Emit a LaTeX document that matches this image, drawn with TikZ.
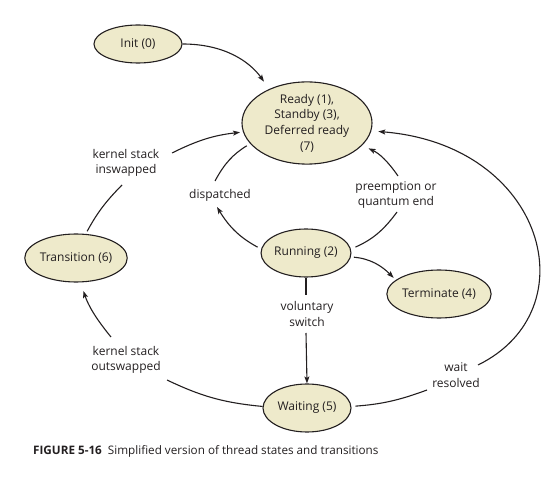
\documentclass[tikz,border=0pt]{standalone}
\usepackage{fontspec}
\setmainfont{Open Sans}
\usetikzlibrary{shapes.geometric,arrows.meta}
\definecolor{statefill}{RGB}{238,234,203}
\definecolor{ink}{RGB}{35,31,32}
\begin{document}
\begin{tikzpicture}[x=1pt,y=-1pt,
  state/.style={ellipse,draw=ink,line width=1.1pt,fill=statefill,inner sep=0pt,
    font=\fontsize{12}{15.7}\selectfont,align=center,text=ink},
  lbl/.style={font=\fontsize{12}{15.5}\selectfont,align=center,text=ink,inner sep=0pt},
  conn/.style={line width=1.1pt,draw=ink},
  arr/.style={conn,-{Stealth[length=7pt,width=5pt,inset=1.5pt]}}]
\useasboundingbox (0,0) rectangle (558,484);

% states
\node[state,minimum width=88pt,minimum height=38pt] (init) at (138,44) {Init (0)};
\node[state,minimum width=130pt,minimum height=74pt] (ready) at (307,123)
  {Ready (1),\\Standby (3),\\Deferred ready\\(7)};
\node[state,minimum width=86pt,minimum height=48pt] (trans) at (76,258) {Transition (6)};
\node[state,minimum width=86pt,minimum height=48pt] (run) at (306,253) {Running (2)};
\node[state,minimum width=88pt,minimum height=48pt] (term) at (439,294) {Terminate (4)};
\node[state,minimum width=88pt,minimum height=48pt] (wait) at (307,408) {Waiting (5)};

% labels
\node[lbl] (lin) at (126,163) {kernel stack\\inswapped};
\node[lbl] (ldisp) at (220,195) {dispatched};
\node[lbl] (lpre) at (396,195) {preemption or\\quantum end};
\node[lbl] (lvol) at (307,314) {voluntary\\switch};
\node[lbl] (lout) at (126,360) {kernel stack\\outswapped};
\node[lbl] (lwr) at (456,375) {wait\\resolved};

% free ends next to the labels
\coordinate (in1) at (122,185);
\coordinate (in2) at (172,153);
\coordinate (d1) at (215,181);
\coordinate (d2) at (217,207);
\coordinate (p1) at (397,212);
\coordinate (p2) at (398,176);
\coordinate (v1) at (306,295);
\coordinate (v2) at (306,333);
\coordinate (o1) at (167,380);
\coordinate (o2) at (111,337);
\coordinate (w1) at (427,390);
\coordinate (w2) at (478,365);

% connectors
\draw[arr,shorten >=9pt] (init.east) .. controls (225,44) and (250,62) .. (ready.138);

\draw[conn,shorten <=3pt] (trans.68) to[bend left=8] (in1);
\draw[arr,shorten >=3pt] (in2) to[bend left=10] (ready.188);

\draw[conn,shorten <=4pt] (ready.200) to[bend right=15] (d1);
\draw[arr,shorten <=4pt] (run.175) to[bend left=15] (d2);

\draw[conn,shorten <=5pt] (run.5) to[bend right=15] (p1);
\draw[arr,shorten >=7pt] (p2) to[bend right=15] (ready.-22);

\draw[arr,shorten <=3pt,shorten >=3pt] (run.-5) to[out=-5,in=135] (term.162);

\draw[conn] (run.south) -- (v1);
\draw[arr] (v2) -- (wait.north);

\draw[conn] (wait.178) to[bend left=10] (o1);
\draw[arr,shorten >=9pt] (o2) to[bend left=10] (trans.-80);

\draw[conn,shorten <=4pt] (wait.2) to[bend right=8] (w1);
\draw[arr,shorten >=7pt] (w2) .. controls (590,310) and (545,145) .. (ready.-7);

% caption
\node[anchor=west,inner sep=0pt,text=ink,font=\fontsize{11.7}{14}\selectfont] (cap) at (33,451)
  {\textbf{FIGURE 5-16}\hspace{6pt}Simplified version of thread states and transitions};
\end{tikzpicture}
\end{document}
